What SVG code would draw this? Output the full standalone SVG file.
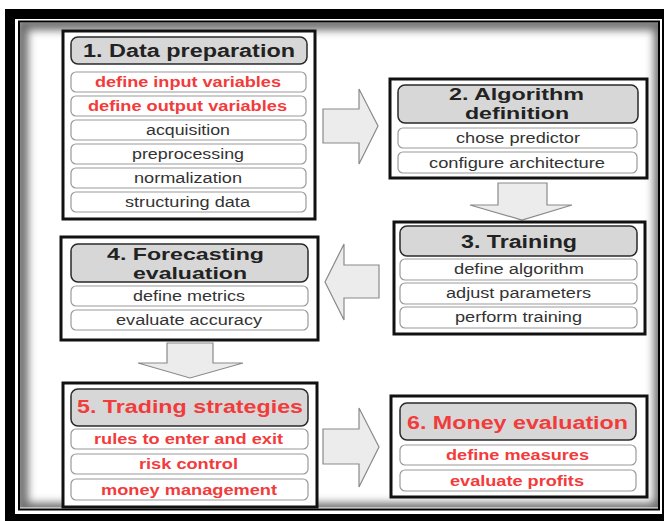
<svg xmlns="http://www.w3.org/2000/svg" width="664" height="521" viewBox="0 0 664 521">
  <defs>
    <style>
      .box { fill: #ffffff; stroke: #111111; stroke-width: 3; }
      .pill { fill: #d7d7d7; stroke: #2a2a2a; stroke-width: 1.5; }
      .row { fill: #ffffff; stroke: #9a9a9a; stroke-width: 1.2; }
      .title { font-family: "Liberation Sans", Arial, sans-serif; font-weight: bold; font-size: 17.5px; fill: #222222; text-anchor: middle; }
      .two { font-size: 16.5px; }
      .item { font-family: "Liberation Sans", Arial, sans-serif; font-size: 14px; fill: #333333; text-anchor: middle; }
      .red { fill: #f23b3b; }
      .hot { font-weight: bold; }
      .arrow { fill: #ececec; stroke: #8a8a8a; stroke-width: 1.2; stroke-linejoin: miter; }
    </style>
    <clipPath id="innerClip">
      <rect x="20" y="22.5" width="638" height="485"/>
    </clipPath>
    <filter id="soft" x="-10%" y="-10%" width="120%" height="120%">
      <feGaussianBlur stdDeviation="4"/>
    </filter>
  </defs>

  <rect width="664" height="521" fill="#ffffff"/>

  <!-- outer double frame with inner shading -->
  <g id="frame">
    <g clip-path="url(#innerClip)">
      <rect x="22" y="24" width="638" height="485" fill="none" stroke="#6a6a6a" stroke-width="12" filter="url(#soft)"/>
    </g>
    <rect x="10" y="14" width="657" height="505" fill="none" stroke="#000000" stroke-width="10"/>
    <rect x="19" y="21.5" width="640" height="488" fill="none" stroke="#000000" stroke-width="2"/>
  </g>

  <!-- connectors: block arrows between stages -->
  <g id="connectors">
    <polygon class="arrow" points="323,109 359,109 359,89 378,126 359,164 359,143 323,143"/>
    <polygon class="arrow" points="498,183 547,183 547,205 572,205 522,220 470,205 498,205"/>
    <polygon class="arrow" points="379,265 344,265 344,244 325,282 344,320 344,298 379,298"/>
    <polygon class="arrow" points="167,343 213,343 213,363 243,363 190,378 138,363 167,363"/>
    <polygon class="arrow" points="323,429 359,429 359,408 379,447 359,487 359,464 323,464"/>
  </g>

  <!-- stage 1 -->
  <g id="node-data-preparation">
    <rect class="box" x="63" y="31" width="252" height="188"/>
    <rect class="pill" x="71" y="37" width="236" height="27" rx="7"/>
    <text class="title" x="189" y="57" textLength="212" lengthAdjust="spacingAndGlyphs">1. Data preparation</text>
    <rect class="row" x="71" y="72" width="235" height="20" rx="5"/>
    <rect class="row" x="71" y="96" width="235" height="20" rx="5"/>
    <rect class="row" x="71" y="120" width="235" height="20" rx="5"/>
    <rect class="row" x="71" y="144" width="235" height="20" rx="5"/>
    <rect class="row" x="71" y="168" width="235" height="20" rx="5"/>
    <rect class="row" x="71" y="192" width="235" height="20" rx="5"/>
    <text class="item hot red" x="188" y="87" textLength="186" lengthAdjust="spacingAndGlyphs">define input variables</text>
    <text class="item hot red" x="187.5" y="111" textLength="199" lengthAdjust="spacingAndGlyphs">define output variables</text>
    <text class="item" x="188" y="135" textLength="84" lengthAdjust="spacingAndGlyphs">acquisition</text>
    <text class="item" x="188" y="159" textLength="112" lengthAdjust="spacingAndGlyphs">preprocessing</text>
    <text class="item" x="188" y="183" textLength="108" lengthAdjust="spacingAndGlyphs">normalization</text>
    <text class="item" x="187.5" y="207" textLength="125" lengthAdjust="spacingAndGlyphs">structuring data</text>
  </g>

  <!-- stage 2 -->
  <g id="node-algorithm-definition">
    <rect class="box" x="390" y="79" width="257" height="99"/>
    <rect class="pill" x="398" y="85" width="240" height="38" rx="7"/>
    <text class="title two" x="516.5" y="100" textLength="135" lengthAdjust="spacingAndGlyphs">2. Algorithm</text>
    <text class="title two" x="517" y="119" textLength="104" lengthAdjust="spacingAndGlyphs">definition</text>
    <rect class="row" x="398" y="128" width="239" height="20" rx="5"/>
    <rect class="row" x="398" y="152" width="239" height="21" rx="5"/>
    <text class="item" x="518" y="143" textLength="124" lengthAdjust="spacingAndGlyphs">chose predictor</text>
    <text class="item" x="517" y="167.5" textLength="176" lengthAdjust="spacingAndGlyphs">configure architecture</text>
  </g>

  <!-- stage 3 -->
  <g id="node-training">
    <rect class="box" x="394" y="222" width="251" height="112"/>
    <rect class="pill" x="400" y="226" width="237" height="30" rx="7"/>
    <text class="title" x="519" y="248" textLength="116" lengthAdjust="spacingAndGlyphs">3. Training</text>
    <rect class="row" x="400" y="259" width="237" height="21" rx="5"/>
    <rect class="row" x="400" y="283" width="237" height="21" rx="5"/>
    <rect class="row" x="400" y="307" width="237" height="21" rx="5"/>
    <text class="item" x="519" y="274" textLength="130" lengthAdjust="spacingAndGlyphs">define algorithm</text>
    <text class="item" x="518.5" y="298" textLength="145" lengthAdjust="spacingAndGlyphs">adjust parameters</text>
    <text class="item" x="518.5" y="322" textLength="127" lengthAdjust="spacingAndGlyphs">perform training</text>
  </g>

  <!-- stage 4 -->
  <g id="node-forecasting-evaluation">
    <rect class="box" x="61" y="237" width="257" height="103"/>
    <rect class="pill" x="71" y="244" width="237" height="38" rx="7"/>
    <text class="title two" x="185.5" y="260" textLength="157" lengthAdjust="spacingAndGlyphs">4. Forecasting</text>
    <text class="title two" x="190" y="279" textLength="114" lengthAdjust="spacingAndGlyphs">evaluation</text>
    <rect class="row" x="71" y="286" width="237" height="20" rx="5"/>
    <rect class="row" x="71" y="310" width="237" height="20" rx="5"/>
    <text class="item" x="189" y="301" textLength="112" lengthAdjust="spacingAndGlyphs">define metrics</text>
    <text class="item" x="189" y="325" textLength="146" lengthAdjust="spacingAndGlyphs">evaluate accuracy</text>
  </g>

  <!-- stage 5 -->
  <g id="node-trading-strategies">
    <rect class="box" x="63" y="383" width="254" height="124"/>
    <rect class="pill" x="71" y="389" width="237" height="37" rx="7"/>
    <text class="title red" x="190" y="413" textLength="226" lengthAdjust="spacingAndGlyphs">5. Trading strategies</text>
    <rect class="row" x="71" y="429" width="237" height="20" rx="5"/>
    <rect class="row" x="71" y="454" width="237" height="20" rx="5"/>
    <rect class="row" x="71" y="479" width="237" height="21" rx="5"/>
    <text class="item hot red" x="188.5" y="444" textLength="189" lengthAdjust="spacingAndGlyphs">rules to enter and exit</text>
    <text class="item hot red" x="188.5" y="469" textLength="99" lengthAdjust="spacingAndGlyphs">risk control</text>
    <text class="item hot red" x="189" y="494.5" textLength="176" lengthAdjust="spacingAndGlyphs">money management</text>
  </g>

  <!-- stage 6 -->
  <g id="node-money-evaluation">
    <rect class="box" x="391" y="396" width="256" height="101"/>
    <rect class="pill" x="400" y="403" width="236" height="37" rx="7"/>
    <text class="title red" x="517.5" y="429" textLength="221" lengthAdjust="spacingAndGlyphs">6. Money evaluation</text>
    <rect class="row" x="400" y="445" width="236" height="20" rx="5"/>
    <rect class="row" x="400" y="470" width="236" height="21" rx="5"/>
    <text class="item hot red" x="517.5" y="460" textLength="143" lengthAdjust="spacingAndGlyphs">define measures</text>
    <text class="item hot red" x="517" y="485.5" textLength="134" lengthAdjust="spacingAndGlyphs">evaluate profits</text>
  </g>
</svg>
